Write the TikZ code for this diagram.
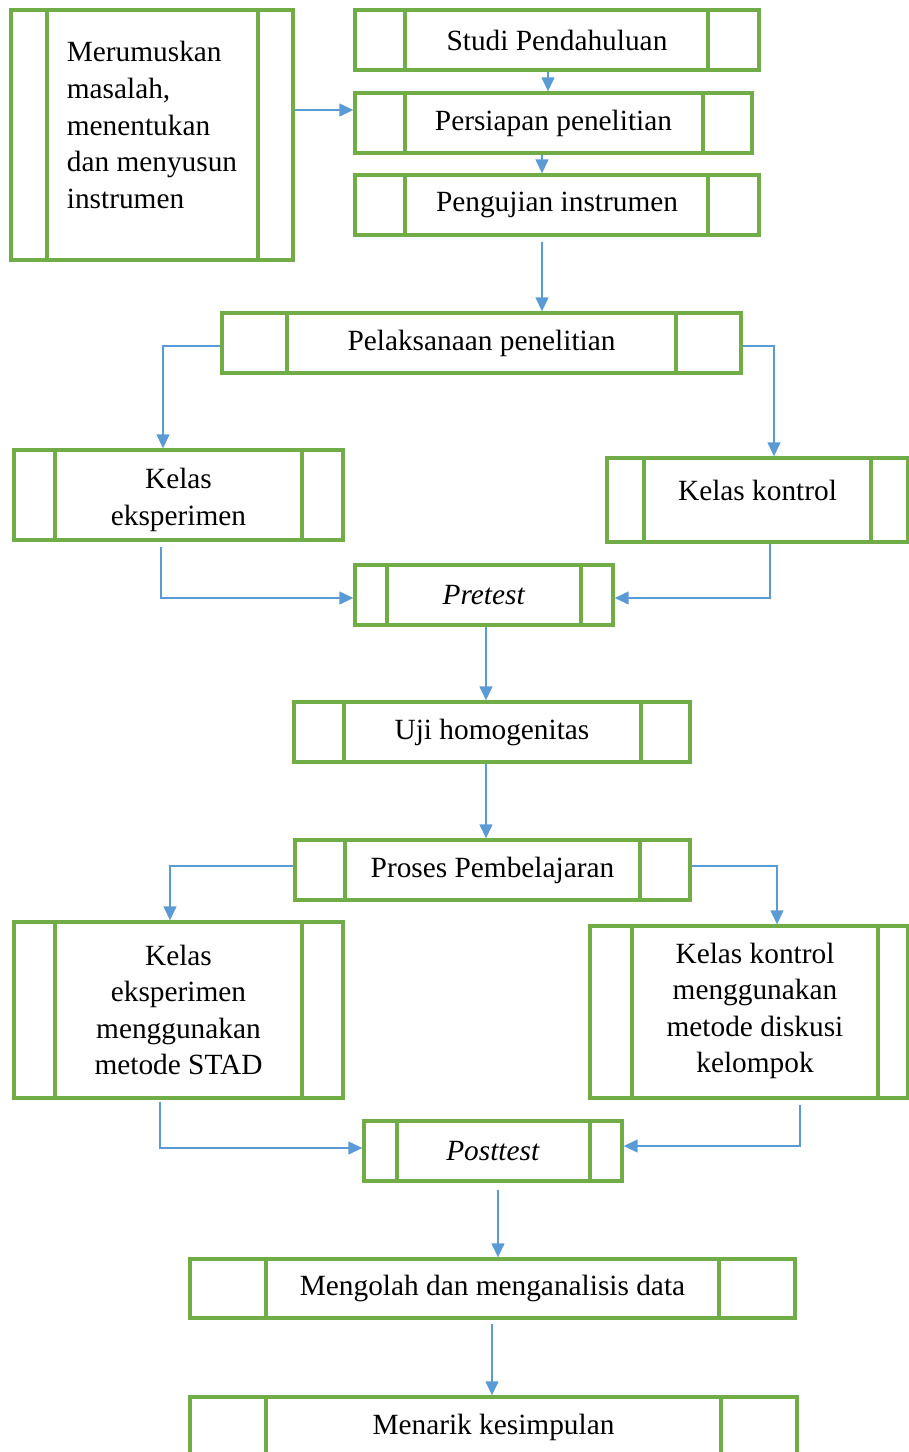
\documentclass[tikz,border=0pt]{standalone}
\usepackage{fontspec}
\setmainfont{Liberation Serif}
\usepackage{tikz}
\usetikzlibrary{arrows.meta,calc}
\definecolor{boxgreen}{HTML}{70AD47}
\definecolor{arrowblue}{HTML}{5B9BD5}
\newlength\pxu
\setlength\pxu{0.375pt}

\begin{document}
\begin{tikzpicture}[
  x=0.375pt, y=-0.375pt,
  proc/.style 2 args={draw=boxgreen, line width=1.25pt, inner sep=0pt,
    minimum height=60\pxu, font=\fontsize{11}{13.7}\selectfont, align=center,
    path picture={
      \draw[boxgreen, line width=1.25pt]
        ([xshift=#1\pxu]path picture bounding box.north west) --
        ([xshift=#1\pxu]path picture bounding box.south west);
      \draw[boxgreen, line width=1.25pt]
        ([xshift=-#2\pxu]path picture bounding box.north east) --
        ([xshift=-#2\pxu]path picture bounding box.south east);
    }},
  txt/.style={inner sep=0pt, font=\fontsize{11}{13.7}\selectfont, align=center},
  arr/.style={-{Triangle[length=5.2pt,width=4.8pt]}, line width=0.55pt, arrowblue}
]
  \useasboundingbox (0,0) rectangle (909,1452);
  % top block
  \node[proc={36}{35}, minimum width=282\pxu, minimum height=250\pxu] (merum) at (152,135) {};
  \node[txt, align=left] (merumtext) at (152,125)
    {Merumuskan\\masalah,\\menentukan\\dan menyusun\\instrumen};
  \node[proc={50}{51}, minimum width=404\pxu] (studi) at (557,40) {Studi Pendahuluan};
  \node[proc={50}{49}, minimum width=397\pxu] (persiapan) at (553.5,123) {Persiapan penelitian};
  \node[proc={50}{51}, minimum width=404\pxu] (pengujian) at (557,205) {Pengujian instrumen};
  \node[proc={65}{65}, minimum width=519\pxu] (pelaks) at (481.5,343) {Pelaksanaan penelitian};
  % classes
  \node[proc={41}{41}, minimum width=329\pxu, minimum height=90\pxu] (keleks) at (178.5,495) {};
  \node[txt] (kelekstext) at (178.5,500) {Kelas\\eksperimen};
  \node[proc={37}{37}, minimum width=301\pxu, minimum height=84\pxu] (kelkon) at (757.5,500) {};
  \node[txt] (kelkontext) at (757.5,490) {Kelas kontrol};
  \node[proc={32}{32}, minimum width=258\pxu] (pretest) at (484,595) {\textit{Pretest}};
  \node[proc={50}{49}, minimum width=396\pxu] (uji) at (492,732) {Uji homogenitas};
  \node[proc={50}{50}, minimum width=395\pxu] (proses) at (492.5,870) {Proses Pembelajaran};
  \node[proc={41}{41}, minimum width=329\pxu, minimum height=176\pxu] (stad) at (178.5,1010)
    {Kelas\\eksperimen\\menggunakan\\metode STAD};
  \node[proc={42}{30}, minimum width=318\pxu, minimum height=172\pxu] (diskusi) at (749,1012) {};
  \node[txt] (diskusitext) at (755,1011)
    {Kelas kontrol\\menggunakan\\metode diskusi\\kelompok};
  \node[proc={33}{32}, minimum width=258\pxu] (posttest) at (493,1151) {\textit{Posttest}};
  \node[proc={76}{76}, minimum width=605\pxu, minimum height=59\pxu] (mengolah) at (492.5,1288.5)
    {Mengolah dan menganalisis data};
  \node[proc={76}{76}, minimum width=607\pxu] (menarik) at (493.5,1427) {Menarik kesimpulan};
  % connectors
  \draw[arr] ([yshift=25\pxu]merum.east) -- ([yshift=25\pxu]merum.east -| persiapan.west);
  \draw[arr] ([xshift=-9\pxu]studi.south) -- ([xshift=-9\pxu]studi.south |- persiapan.north);
  \draw[arr] ([xshift=-11.5\pxu]persiapan.south) -- ([xshift=-11.5\pxu]persiapan.south |- pengujian.north);
  \draw[arr] ([xshift=-15\pxu,yshift=-5\pxu]pengujian.south) -- ([xshift=-15\pxu]pengujian.south |- pelaks.north);
  \draw[arr] ([yshift=-3\pxu]pelaks.west) -| ([xshift=-15.5\pxu]keleks.north);
  \draw[arr] ([yshift=-3\pxu]pelaks.east) -| ([xshift=16.5\pxu]kelkon.north);
  \draw[arr] ([xshift=-17.5\pxu,yshift=-5\pxu]keleks.south) |- ([yshift=-3\pxu]pretest.west);
  \draw[arr] ([xshift=12.5\pxu]kelkon.south) |- ([yshift=-3\pxu]pretest.east);
  \draw[arr] ([xshift=2\pxu]pretest.south) -- ([xshift=2\pxu]pretest.south |- uji.north);
  \draw[arr] ([xshift=-6\pxu]uji.south) -- ([xshift=-6\pxu]uji.south |- proses.north);
  \draw[arr] ([yshift=4\pxu]proses.west) -| ([xshift=-8.5\pxu]stad.north);
  \draw[arr] ([yshift=4\pxu]proses.east) -| ([xshift=28\pxu]diskusi.north);
  \draw[arr] ([xshift=-18.5\pxu,yshift=-2\pxu]stad.south) |- ([yshift=3\pxu]posttest.west);
  \draw[arr] ([xshift=51\pxu,yshift=-5\pxu]diskusi.south) |- ([yshift=5\pxu]posttest.east);
  \draw[arr] ([xshift=5\pxu,yshift=-7\pxu]posttest.south) -- ([xshift=5\pxu]posttest.south |- mengolah.north);
  \draw[arr] ([xshift=-0.5\pxu,yshift=-4\pxu]mengolah.south) -- ([xshift=-0.5\pxu]mengolah.south |- menarik.north);
\end{tikzpicture}
\end{document}
